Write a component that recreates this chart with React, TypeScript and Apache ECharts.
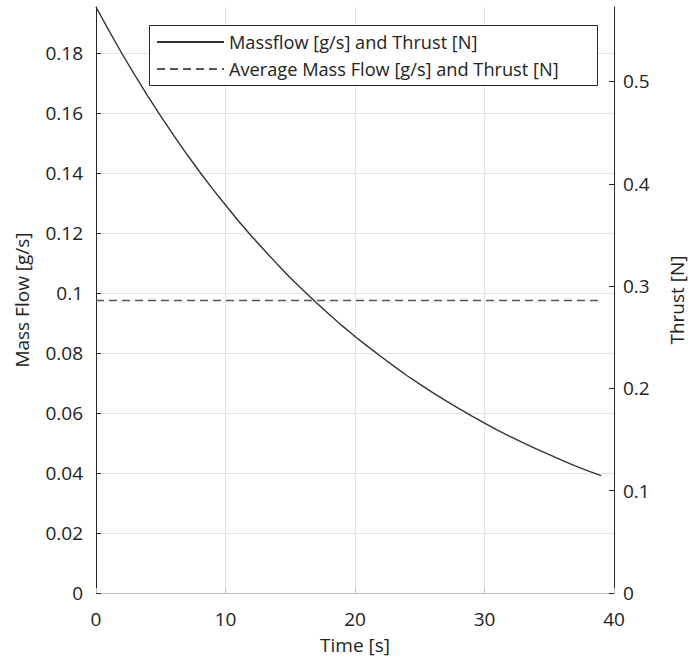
import React, { useEffect, useRef } from "react";
import * as echarts from "echarts";

const time = [
  0, 1, 2, 3, 4, 5, 6, 7, 8, 9, 10, 11, 12, 13, 14, 15, 16, 17, 18, 19, 20,
  21, 22, 23, 24, 25, 26, 27, 28, 29, 30, 31, 32, 33, 34, 35, 36, 37, 38, 39,
];
const massFlow = [
  0.1953, 0.1874, 0.1798, 0.1726, 0.1656, 0.1589, 0.1525, 0.1463, 0.1404,
  0.1347, 0.1293, 0.124, 0.119, 0.1142, 0.1096, 0.1051, 0.1009, 0.0968,
  0.0929, 0.0891, 0.0855, 0.0821, 0.0788, 0.0756, 0.0725, 0.0696, 0.0668,
  0.0641, 0.0615, 0.059, 0.0566, 0.0543, 0.0521, 0.05, 0.048, 0.0461, 0.0442,
  0.0424, 0.0407, 0.0391,
];
const avgTime = [0, 39];
const avgMassFlow = [0.0975, 0.0975];

const massFlowMax = 0.1953;
const thrustMax = 0.5728;
const massFlowTicks = [0, 0.02, 0.04, 0.06, 0.08, 0.1, 0.12, 0.14, 0.16, 0.18];
const thrustTicks = [0, 0.1, 0.2, 0.3, 0.4, 0.5];
const timeTicks = [0, 10, 20, 30, 40];

const seriesNames = [
  "Massflow [g/s] and Thrust [N]",
  "Average Mass Flow [g/s] and Thrust [N]",
];

const FONT = "Open Sans";

export default function App() {
  const ref = useRef<HTMLDivElement>(null);
  useEffect(() => {
    if (!ref.current) return;
    const chart = echarts.init(ref.current, undefined, { renderer: "svg" });
    const labelStyle = { fontFamily: FONT, fontSize: 19, color: "#222" };
    chart.setOption({
      animation: false,
      backgroundColor: "#fff",
      textStyle: { fontFamily: FONT },
      grid: { left: 96, right: 78, top: 7, bottom: 75 },
      graphic: [
        {
          type: "rect",
          z: 3,
          shape: { x: 149.5, y: 25.5, width: 448, height: 60 },
          style: { fill: "#fff", stroke: "#262626", lineWidth: 1 },
        },
      ],
      legend: {
        orient: "vertical",
        left: 151,
        top: 27,
        z: 5,
        itemWidth: 67,
        itemHeight: 10,
        itemGap: 7,
        itemStyle: { opacity: 0 },
        textStyle: { fontFamily: FONT, fontSize: 18.2, color: "#222", lineHeight: 20 },
        data: seriesNames.map((n) => ({ name: n })),
      },
      xAxis: {
        type: "value",
        min: 0,
        max: 40,
        interval: 10,
        name: "Time [s]",
        nameLocation: "middle",
        nameGap: 42,
        nameTextStyle: labelStyle,
        axisLine: { lineStyle: { color: "#bdbdbd", width: 1 } },
        axisTick: { show: true, inside: true, length: 5, lineStyle: { color: "#bdbdbd" }, customValues: timeTicks },
        axisLabel: { ...labelStyle, margin: 16, customValues: timeTicks },
        splitLine: { show: true, lineStyle: { color: "#e3e3e3", width: 1 } },
      },
      yAxis: [
        {
          type: "value",
          position: "left",
          min: 0,
          max: massFlowMax,
          interval: 0.02,
          name: "Mass Flow [g/s]",
          nameLocation: "middle",
          nameRotate: 90,
          nameGap: 65,
          nameTextStyle: labelStyle,
          axisLine: { show: true, lineStyle: { color: "#262626", width: 1 } },
          axisTick: { show: true, inside: true, length: 5, lineStyle: { color: "#262626" }, customValues: massFlowTicks },
          axisLabel: { ...labelStyle, margin: 13, customValues: massFlowTicks },
          splitLine: { show: true, lineStyle: { color: "#e3e3e3", width: 1 } },
        },
        {
          type: "value",
          position: "right",
          min: 0,
          max: thrustMax,
          interval: 0.1,
          name: "Thrust [N]",
          nameLocation: "middle",
          nameRotate: 90,
          nameGap: 53,
          nameTextStyle: labelStyle,
          axisLine: { show: true, lineStyle: { color: "#262626", width: 1 } },
          axisTick: { show: true, inside: true, length: 5, lineStyle: { color: "#262626" }, customValues: thrustTicks },
          axisLabel: { ...labelStyle, margin: 9, customValues: thrustTicks },
          splitLine: { show: false },
        },
      ],
      series: [
        {
          name: seriesNames[0],
          type: "line",
          yAxisIndex: 0,
          symbol: "none",
          smooth: false,
          lineStyle: { color: "#333", width: 1.4, type: "solid" },
          itemStyle: { color: "#333" },
          data: time.map((t, i) => [t, massFlow[i]]),
          z: 2,
        },
        {
          name: seriesNames[1],
          type: "line",
          yAxisIndex: 0,
          symbol: "none",
          lineStyle: { color: "#555", width: 1.4, type: [8, 5] },
          itemStyle: { color: "#555" },
          data: avgTime.map((t, i) => [t, avgMassFlow[i]]),
          z: 2,
        },
      ],
    });
    return () => chart.dispose();
  }, []);
  return (
    <div
      ref={ref}
      style={{ position: "fixed", left: 0, top: 0, width: 694, height: 668 }}
    />
  );
}
